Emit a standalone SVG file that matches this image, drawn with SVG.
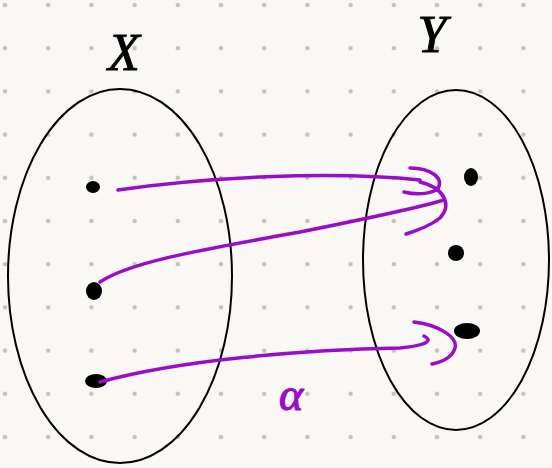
<svg xmlns="http://www.w3.org/2000/svg" width="552" height="468" viewBox="0 0 552 468">
<defs>
<pattern id="grid" x="5" y="5" width="43.2" height="43.2" patternUnits="userSpaceOnUse">
<circle cx="0" cy="0" r="2.3" fill="#c4c2be"/><circle cx="43.2" cy="0" r="2.3" fill="#c4c2be"/><circle cx="0" cy="43.2" r="2.3" fill="#c4c2be"/><circle cx="43.2" cy="43.2" r="2.3" fill="#c4c2be"/>
</pattern>
</defs>
<style>
.set{fill:none;stroke:#000;stroke-width:2}
.pur{fill:none;stroke:#9a0dc8;stroke-width:3.5;stroke-linecap:round;stroke-linejoin:round}
.pt{fill:#000}
.lbl{font-family:"Liberation Serif",serif;font-style:italic;fill:#000;stroke:#000;stroke-width:1}
</style>
<rect width="552" height="468" fill="#faf8f4"/>
<rect width="552" height="468" fill="url(#grid)"/>
<g id="setX">
<ellipse class="set" cx="120" cy="276" rx="112" ry="187"/>
<text class="lbl" x="124" y="70" font-size="52" text-anchor="middle">X</text>
<ellipse class="pt" cx="93" cy="187" rx="7" ry="6"/>
<ellipse class="pt" cx="94" cy="291" rx="8" ry="9"/>
<ellipse class="pt" cx="96" cy="381" rx="11" ry="7"/>
</g>
<g id="setY">
<ellipse class="set" cx="456" cy="260" rx="93" ry="170"/>
<text class="lbl" x="432" y="52" font-size="52" text-anchor="middle">Y</text>
<ellipse class="pt" cx="471" cy="177" rx="7" ry="9"/>
<ellipse class="pt" cx="456" cy="253" rx="8" ry="8"/>
<ellipse class="pt" cx="467" cy="331" rx="13" ry="8"/>
</g>
<g id="connectors">
<path class="pur" d="M118,190 C200,178 330,170 420,180"/>
<path class="pur" d="M410,168 C430,168 446,178 437,190 C425,195 412,194 404,192 M420,182 C445,188 452,205 440,218 C430,226 418,230 406,234"/>
<path class="pur" d="M100,282 C130,262 200,250 300,232 C360,220 410,210 444,200"/>
<path class="pur" d="M100,382 C180,360 300,350 400,348 C430,345 432,340 424,336 M414,322 C440,325 458,338 455,348 C452,358 442,362 432,364"/>
<text x="291" y="410" font-family="Liberation Serif,serif" font-style="italic" font-size="46" fill="#9a0dc8" stroke="#9a0dc8" stroke-width="1.2" text-anchor="middle">α</text>
</g>
</svg>
